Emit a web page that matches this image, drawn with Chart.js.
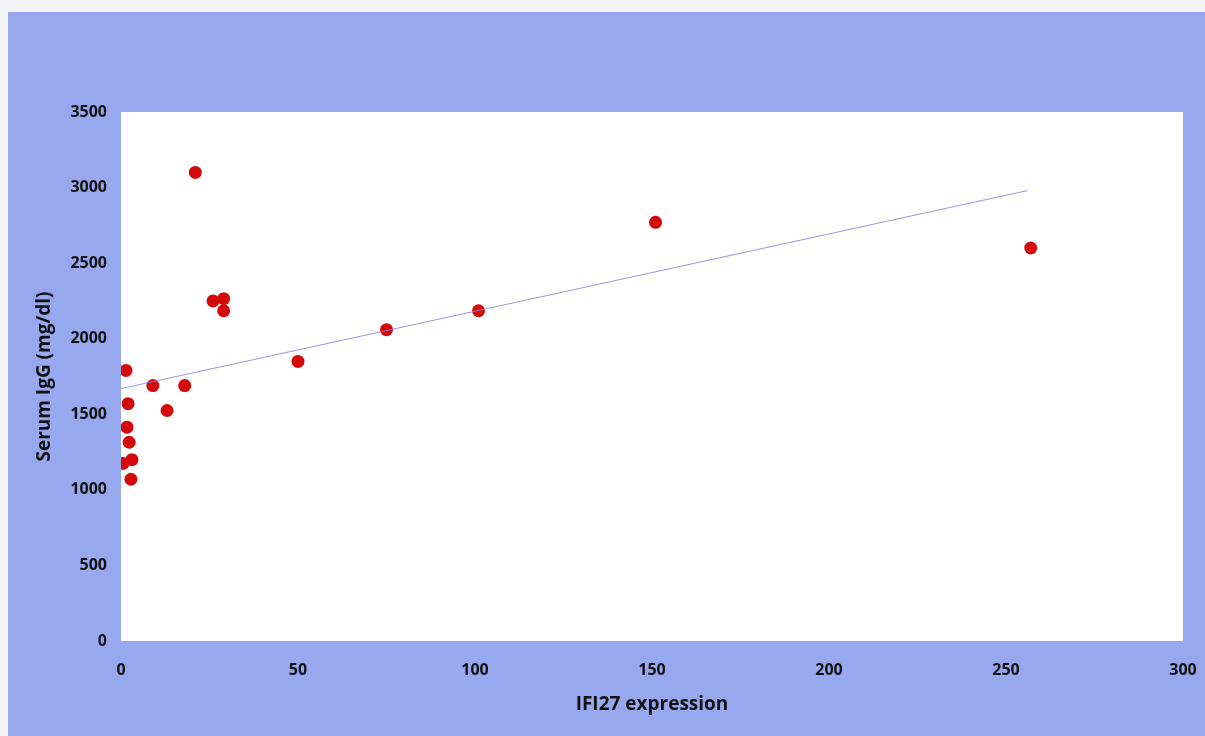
<!DOCTYPE html>
<html>
<head>
<meta charset="utf-8">
<script src="https://cdn.jsdelivr.net/npm/chart.js@4/dist/chart.umd.min.js"></script>
<style>
  html, body { margin: 0; padding: 0; background: #f3f3f5; }
  #wrap { width: 1205px; height: 736px; position: relative; }
</style>
</head>
<body>
<div id="wrap"><canvas id="chart" width="1205" height="736"></canvas></div>
<script>
// IFI27 expression vs serum IgG
const ifi27 = [21, 151, 257, 26, 29, 29, 101, 75, 50, 1.4, 9, 18, 2, 13, 1.7, 2.3, 3.1, 0.6, 2.8];
const igg = [3100, 2770, 2600, 2250, 2265, 2185, 2185, 2060, 1850, 1790, 1690, 1690, 1570, 1525, 1415, 1315, 1200, 1175, 1070];

// trend line end points
const trendX = [0, 256];
const trendY = [1670, 2980];

const xTicks = [0, 50, 100, 150, 200, 250, 300];
const yTicks = [0, 500, 1000, 1500, 2000, 2500, 3000, 3500];

const points = ifi27.map((v, i) => ({ x: v, y: igg[i] }));
const trend = trendX.map((v, i) => ({ x: v, y: trendY[i] }));

// blue page + white plot area
const backdrop = {
  id: 'backdrop',
  beforeDraw(chart) {
    const { ctx, chartArea: a } = chart;
    ctx.save();
    ctx.fillStyle = '#f3f3f5';
    ctx.fillRect(0, 0, chart.width, chart.height);
    ctx.fillStyle = '#97a8ef';
    ctx.fillRect(8, 12, chart.width - 8, chart.height - 12);
    ctx.fillStyle = '#ffffff';
    ctx.fillRect(a.left, a.top, a.right - a.left, a.bottom - a.top);
    ctx.restore();
  }
};

const tickFont = { family: 'Open Sans', size: 16, weight: 'bold' };
const titleFont = { family: 'Open Sans', size: 19, weight: 'bold' };

new Chart(document.getElementById('chart'), {
  type: 'scatter',
  data: {
    datasets: [
      {
        type: 'line',
        data: trend,
        borderColor: 'rgba(130,130,225,0.85)',
        borderWidth: 1,
        pointRadius: 0,
        fill: false
      },
      {
        data: points,
        backgroundColor: '#d40a0a',
        borderWidth: 0,
        pointRadius: 6.5
      }
    ]
  },
  options: {
    responsive: false,
    animation: false,
    layout: { padding: { left: 20, right: 22, top: 112, bottom: 0 } },
    plugins: { legend: { display: false }, tooltip: { enabled: false } },
    scales: {
      x: {
        type: 'linear',
        min: 0,
        max: 300,
        afterBuildTicks: s => { s.ticks = xTicks.map(v => ({ value: v })); },
        afterFit: s => { s.height = 95; s.paddingLeft = 0; s.paddingRight = 0; },
        grid: { display: false },
        border: { display: false },
        ticks: { color: '#111', font: tickFont, padding: 12, maxRotation: 0, callback: v => String(v) },
        title: {
          display: true,
          text: 'IFI27 expression',
          color: '#111',
          font: titleFont,
          padding: { top: 0, bottom: 20 }
        }
      },
      y: {
        min: 0,
        max: 3500,
        afterBuildTicks: s => { s.ticks = yTicks.map(v => ({ value: v })); },
        afterFit: s => { s.width = 101; },
        grid: { display: false },
        border: { display: false },
        ticks: { color: '#111', font: tickFont, padding: 6, callback: v => String(v) },
        title: {
          display: true,
          text: 'Serum IgG (mg/dl)',
          color: '#111',
          font: titleFont,
          padding: { top: 13, bottom: 0 }
        }
      }
    }
  },
  plugins: [backdrop]
});
</script>
</body>
</html>
